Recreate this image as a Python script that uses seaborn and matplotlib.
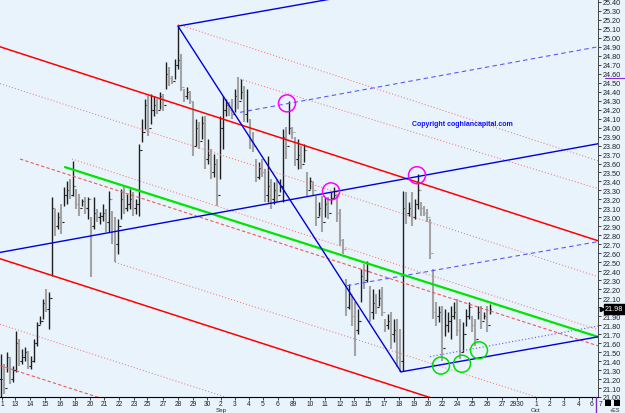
import numpy as np
import matplotlib
matplotlib.use("Agg")
import matplotlib.pyplot as plt
import matplotlib.transforms as mtransforms
from matplotlib.patches import Rectangle
from matplotlib.lines import Line2D
import seaborn as sns

# ---------------- data (bar index, price) ----------------
highs = [21.48, 21.37, 21.50, 21.45, 21.35, 21.73, 21.65, 21.53, 21.56, 21.51,
         21.46, 21.65, 21.83, 21.90, 22.09, 22.20, 22.17, 23.23, 23.09, 23.06,
         23.15, 23.34, 23.41, 23.43, 23.63, 23.32, 23.26, 23.20, 23.23, 23.23,
         23.00, 23.23, 23.09, 23.06, 23.15, 23.09, 23.29, 23.07, 23.00, 22.98,
         23.32, 23.34, 23.26, 23.32, 23.28, 23.20, 23.82, 24.10, 24.32, 24.35,
         24.37, 24.35, 24.32, 24.40, 24.37, 24.73, 24.67, 24.57, 24.76, 25.13,
         24.82, 24.43, 24.45, 24.41, 24.29, 24.10, 24.06, 24.13, 24.13, 23.87,
         23.76, 23.71, 23.65, 24.13, 24.35, 24.32, 24.29, 24.32, 24.43, 24.56,
         24.54, 24.46, 24.43, 24.10, 23.95, 23.65, 23.62, 23.65, 23.54, 23.68,
         23.43, 23.39, 23.43, 23.43, 23.98, 24.01, 24.30, 24.01, 23.90, 23.87,
         23.79, 23.82, 23.50, 23.45, 23.39, 23.24, 23.17, 23.24, 23.23, 23.23,
         23.28, 23.34, 23.26, 23.09, 22.76, 22.31, 22.26, 22.13, 22.06, 21.98,
         22.43, 22.48, 22.51, 22.24, 22.20, 22.15, 22.20, 22.22, 21.87, 21.92,
         21.95, 21.87, 21.87, 21.76, 23.29, 23.28, 23.17, 23.28, 23.20, 23.48,
         23.17, 23.13, 23.09, 22.98, 22.43, 22.06, 22.01, 22.01, 21.98, 21.95,
         22.01, 22.06, 22.09, 21.87, 21.83, 21.98, 22.06, 21.90, 21.87, 22.01,
         22.01, 21.95, 22.01, 22.04]
lows = [20.98, 21.03, 21.28, 21.14, 21.17, 21.28, 21.35, 21.37, 21.40, 21.31,
        21.31, 21.39, 21.57, 21.81, 21.87, 21.95, 21.76, 22.35, 22.79, 22.87,
        22.82, 23.13, 23.15, 23.20, 23.24, 23.09, 23.02, 23.13, 23.04, 22.98,
        22.34, 22.87, 22.95, 22.93, 22.96, 22.84, 22.84, 22.70, 22.50, 22.59,
        22.98, 23.04, 23.07, 23.09, 23.02, 23.04, 23.02, 23.84, 23.98, 23.91,
        24.04, 24.13, 24.15, 24.21, 24.18, 24.43, 24.46, 24.49, 24.54, 24.65,
        24.41, 24.29, 24.32, 24.26, 23.68, 23.80, 23.76, 23.87, 23.54, 23.59,
        23.43, 23.45, 23.13, 23.43, 23.76, 24.13, 24.13, 24.10, 24.17, 24.21,
        24.32, 24.06, 24.06, 23.76, 23.73, 23.39, 23.43, 23.45, 23.17, 23.17,
        23.09, 23.15, 23.17, 23.28, 23.17, 23.65, 23.93, 23.87, 23.57, 23.54,
        23.54, 23.62, 23.24, 23.32, 23.24, 22.90, 23.02, 22.84, 23.00, 22.98,
        23.15, 23.20, 22.95, 22.68, 22.59, 21.90, 21.98, 21.79, 21.46, 21.70,
        22.06, 22.20, 22.28, 21.83, 21.87, 21.92, 22.01, 21.90, 21.72, 21.76,
        21.53, 21.61, 21.33, 21.28, 21.29, 22.93, 23.02, 22.90, 22.98, 23.09,
        23.02, 23.02, 22.95, 22.54, 21.87, 21.79, 21.83, 21.40, 21.68, 21.72,
        21.65, 21.87, 21.68, 21.42, 21.50, 21.79, 21.87, 21.72, 21.57, 21.87,
        21.76, 21.87, 21.72, 21.92]
closes = [21.20, 21.10, 21.45, 21.20, 21.30, 21.60, 21.40, 21.45, 21.50, 21.35,
          21.40, 21.60, 21.80, 21.85, 22.05, 21.98, 22.10, 23.10, 22.90, 23.00,
          22.95, 23.25, 23.30, 23.25, 23.35, 23.15, 23.10, 23.18, 23.10, 23.20,
          22.90, 23.05, 23.00, 23.02, 23.05, 22.95, 23.20, 22.85, 22.70, 22.90,
          23.20, 23.10, 23.15, 23.20, 23.10, 23.15, 23.75, 23.95, 24.25, 24.00,
          24.20, 24.25, 24.20, 24.35, 24.25, 24.60, 24.55, 24.52, 24.70, 24.75,
          24.45, 24.35, 24.40, 24.30, 23.80, 24.00, 23.85, 24.05, 23.65, 23.70,
          23.50, 23.60, 23.25, 24.00, 24.20, 24.25, 24.20, 24.15, 24.35, 24.30,
          24.40, 24.15, 24.20, 23.85, 23.80, 23.45, 23.55, 23.50, 23.25, 23.35,
          23.20, 23.30, 23.25, 23.35, 23.90, 23.80, 24.00, 23.95, 23.65, 23.70,
          23.60, 23.75, 23.30, 23.40, 23.30, 23.00, 23.10, 22.95, 23.15, 23.05,
          23.22, 23.25, 23.05, 22.75, 22.65, 22.00, 22.15, 21.90, 21.75, 21.85,
          22.35, 22.30, 22.40, 21.95, 22.05, 22.00, 22.10, 21.95, 21.80, 21.85,
          21.70, 21.75, 21.45, 21.40, 23.10, 23.05, 23.10, 23.00, 23.15, 23.30,
          23.10, 23.05, 23.00, 22.60, 21.95, 21.90, 21.95, 21.55, 21.80, 21.85,
          21.90, 21.95, 21.75, 21.50, 21.70, 21.90, 22.00, 21.80, 21.65, 21.95,
          21.85, 21.90, 21.80, 21.98]

tick_pos = [0.4, 4.67, 9.67, 14.67, 19.67, 24.67, 29.67, 34.33, 39.33, 44.33,
            48.67, 54.0, 59.0, 64.0, 68.67, 73.33, 78.0, 82.67, 87.33, 92.33,
            97.33, 103.0, 108.0, 113.0, 117.67, 122.33, 127.67, 132.67, 137.67,
            142.33, 147.0, 152.0, 157.0, 162.0, 167.0, 172.0, 178.33, 183.0,
            187.67, 192.67, 197.0]
tick_labels = ["1", "13", "14", "15", "16", "18", "20", "21", "22", "23",
               "25", "27", "28", "29", "30", "2", "3", "4", "5", "6",
               "89", "10", "11", "12", "13", "15", "17", "18", "19",
               "20", "22", "24", "25", "26", "27", "2930", "1", "2",
               "3", "4", "6"]
month_pos = [73.33, 178.33]
month_labels = ["Sep", "Oct"]
last_price = 21.98

# trend lines (x0, p0, x1, p1) in bar-index / price units
red_solid = [(-0.33, 24.90, 199, 22.74), (-0.33, 22.54, 199, 20.39)]
red_dotted = [(59, 25.15, 199, 23.63), (79.67, 24.54, 199, 23.32),
              (-0.33, 24.49, 199, 22.34), (23.67, 23.65, 199, 21.75),
              (38, 22.50, 199, 20.78), (-0.33, 21.81, 199, 19.66)]
red_dashed = [(6.33, 23.65, 199, 21.57), (-0.33, 21.35, 199, 19.20)]
green_line = [(21.33, 23.56, 199, 21.67)]
blue_solid = [(59, 25.13, 109.67, 25.43), (59, 25.13, 133.33, 21.28),
              (133.33, 21.28, 199, 21.67), (-0.33, 22.61, 199, 23.82)]
blue_dashed = [(79.67, 24.17, 199, 24.90), (115.33, 22.24, 199, 22.73)]
blue_dotted = [(143, 21.45, 199, 21.79)]

magenta_x = [95.33, 110.0, 138.67]
magenta_p = [24.27, 23.29, 23.47]
green_x = [146.67, 153.67, 159.33]
green_p = [21.35, 21.37, 21.52]

# ---------------- figure ----------------
sns.set_theme(style="white")
plt.rcParams["font.family"] = ["Liberation Sans", "DejaVu Sans"]
BG = "#E8F3FC"

W, H = 625, 414
fig = plt.figure(figsize=(W / 100, H / 100), dpi=100, facecolor=BG)
ax = fig.add_axes([0, 16 / H, 598 / W, 398 / H])
ax.set_facecolor(BG)
ax.set_xlim(-0.33, 199)
ax.set_ylim(21.00, 25.432)

# bars
x = np.arange(len(highs))
hi = np.array(highs)
lo = np.array(lows)
cl = np.array(closes)
op = np.concatenate([[cl[0]], cl[:-1]])
down = cl < op
for mask, col, lw in [(down, "#A3A3A3", 1.5), (~down, "#1E1E1E", 1.0)]:
    ax.vlines(x[mask], lo[mask], hi[mask], color=col, lw=lw, zorder=2)
    ax.hlines(cl[mask], x[mask], x[mask] + 0.5, color=col, lw=0.8, zorder=2)
    ax.hlines(op[mask], x[mask] - 0.5, x[mask], color=col, lw=0.8, zorder=2)


def draw(lines, color, lw, ls):
    for (x0, p0, x1, p1) in lines:
        sns.lineplot(x=[x0, x1], y=[p0, p1], ax=ax, color=color, lw=lw,
                     linestyle=ls, zorder=3, legend=False)


draw(red_dotted, "#F27A7A", 0.75, (0, (1, 2)))
draw(red_dashed, "#EE5A5A", 0.8, (0, (3, 2)))
draw(blue_dashed, "#5A5AFF", 0.8, (0, (4, 3)))
draw(blue_dotted, "#5A5AFF", 0.8, (0, (1, 2)))
draw(red_solid, "#FF0000", 1.1, "-")
draw(green_line, "#00E400", 1.6, "-")
draw(blue_solid, "#0000DD", 1.0, "-")

ax.scatter(magenta_x, magenta_p, s=150, facecolors="none",
           edgecolors="#FF00FF", linewidths=1.1, zorder=4)
ax.scatter(green_x, green_p, s=150, facecolors="none",
           edgecolors="#00DD00", linewidths=1.1, zorder=4)

ax.text(153.7, 24.05, "Copyright coghlancapital.com", color="#1010FF",
        fontsize=5.0, fontweight="bold", ha="center", va="center", zorder=5)

# axes styling
for s in ["left", "top"]:
    ax.spines[s].set_visible(False)
ax.spines["bottom"].set_color("black")
ax.spines["bottom"].set_linewidth(0.8)
ax.spines["right"].set_color("#444444")
ax.spines["right"].set_linewidth(0.7)
ax.spines["right"].set_linestyle((0, (1, 1)))

ax.yaxis.tick_right()
yt = np.round(np.arange(21.0, 25.401, 0.1), 2)
ax.set_yticks(yt)
ax.set_yticklabels(["" if abs(v - 22.0) < 1e-6 else f"{v:.2f}" for v in yt])
ax.tick_params(axis="y", which="major", length=2.5, width=0.6, pad=1,
               labelsize=5.2, colors="#222222", direction="out", right=True)
ax.set_xticks(tick_pos)
ax.set_xticklabels(tick_labels)
ax.tick_params(axis="x", length=2, width=0.6, pad=0.5, labelsize=4.8,
               colors="#222222", direction="out", bottom=True)
ax.set_xlabel("")
ax.set_ylabel("")

bt = mtransforms.blended_transform_factory(ax.transData, ax.transAxes)
for mp, ml in zip(month_pos, month_labels):
    ax.text(mp, -0.0255, ml, transform=bt, fontsize=4.5, color="#222222",
            ha="center", va="top", clip_on=False)
ax.text(199.8, -0.0065, "7", transform=bt, fontsize=4.8, color="#222222",
        ha="center", va="top", clip_on=False)

rt = mtransforms.blended_transform_factory(ax.transAxes, ax.transData)
ax.text(1.012, last_price, f"{last_price:.2f}", transform=rt, color="white",
        fontsize=5.2, ha="left", va="center", clip_on=False, zorder=6,
        bbox=dict(boxstyle="square,pad=0.15", fc="black", ec="black"))
ax.plot([1.006], [last_price], marker=">", ms=3, color="black",
        transform=rt, clip_on=False)
ax.plot([1.012, 1.045], [24.555, 24.555], color="#8A2BE2", lw=0.8,
        transform=rt, clip_on=False)

fig.add_artist(Line2D([596 / W, 596 / W], [0, 16 / H], color="#7B2CBF", lw=1.0))
fig.add_artist(Rectangle((605 / W, 1 - 407 / H), 6 / W, 6 / H,
                         transform=fig.transFigure, fc="black", ec="none"))
fig.add_artist(Rectangle((614 / W, 1 - 407 / H), 6 / W, 6 / H,
                         transform=fig.transFigure, fc="black", ec="none"))
fig.text(615 / W, 1 - 411 / H, "+ES", fontsize=4, color="#222222",
         ha="center", va="center")

fig.savefig("out.png", dpi=100, facecolor=BG)
